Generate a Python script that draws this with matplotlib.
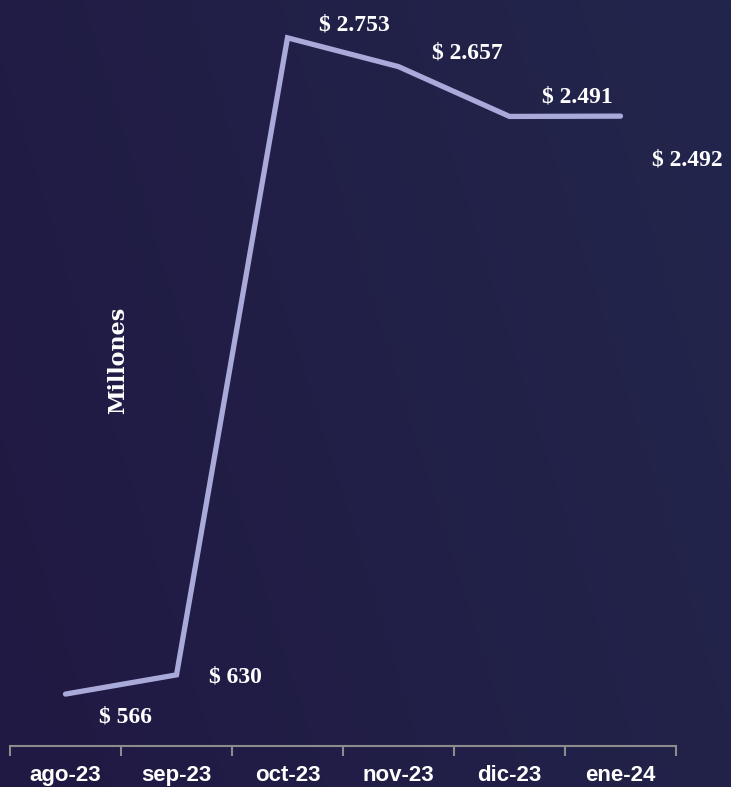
import numpy as np
import matplotlib
matplotlib.use("Agg")
import matplotlib.pyplot as plt

# Data
months = ['ago-23', 'sep-23', 'oct-23', 'nov-23', 'dic-23', 'ene-24']
values = [566, 630, 2753, 2657, 2491, 2492]
labels = ['$ 566', '$ 630', '$ 2.753', '$ 2.657', '$ 2.491', '$ 2.492']
# label offsets in pixels (dx, dy)
offsets = [(60, -23), (59, -2), (67, 13), (69, 14), (68, 19), (67, -44)]

fig = plt.figure(figsize=(7.31, 7.87), dpi=100)

# gradient background
bg = fig.add_axes([0, 0, 1, 1])
gx, gy = np.meshgrid(np.linspace(0, 1, 200), np.linspace(0, 1, 200))
t = np.clip(0.75 * gx + 0.25 * (1 - gy), 0, 1)
c0 = np.array([0x20, 0x19, 0x43]) / 255
c1 = np.array([0x23, 0x26, 0x4c]) / 255
img = c0[None, None, :] * (1 - t[..., None]) + c1[None, None, :] * t[..., None]
bg.imshow(img, aspect='auto', extent=[0, 1, 0, 1], origin='upper')
bg.axis('off')

ax = fig.add_axes([10 / 731, 41 / 787, 666 / 731, 746 / 787])
ax.patch.set_alpha(0)
x = np.arange(len(months))
ax.plot(x, values, color='#a9a9da', lw=3.8, solid_capstyle='round',
        solid_joinstyle='miter')

for xi, v, lab, (dx, dy) in zip(x, values, labels, offsets):
    ax.annotate(lab, (xi, v), xytext=(dx, dy), textcoords='offset pixels',
                ha='center', va='center', color='white', fontsize=17,
                fontweight='bold', family='Liberation Serif')

ax.set_xlim(-0.5, len(months) - 0.5)
ax.set_ylim(393, 2879)

ax.set_xticks(np.arange(-0.5, len(months), 1))
ax.set_xticklabels([])
ax.set_xticks(x, minor=True)
ax.set_xticklabels(months, minor=True, color='white', fontsize=16,
                   fontweight='bold', family='Liberation Sans')
ax.tick_params(axis='x', which='major', length=7, width=1.5, color='#8c8c8c',
               direction='out')
ax.tick_params(axis='x', which='minor', length=0, pad=14)
ax.set_yticks([])
for s in ['top', 'right', 'left']:
    ax.spines[s].set_visible(False)
ax.spines['bottom'].set_color('#8c8c8c')
ax.spines['bottom'].set_linewidth(1.5)

fig.text(118 / 731, 1 - 360 / 787, 'Millones', rotation=90, ha='center',
         va='center', color='white', fontsize=16, fontweight='bold',
         family='DejaVu Serif')

fig.savefig('out.png', dpi=100)
